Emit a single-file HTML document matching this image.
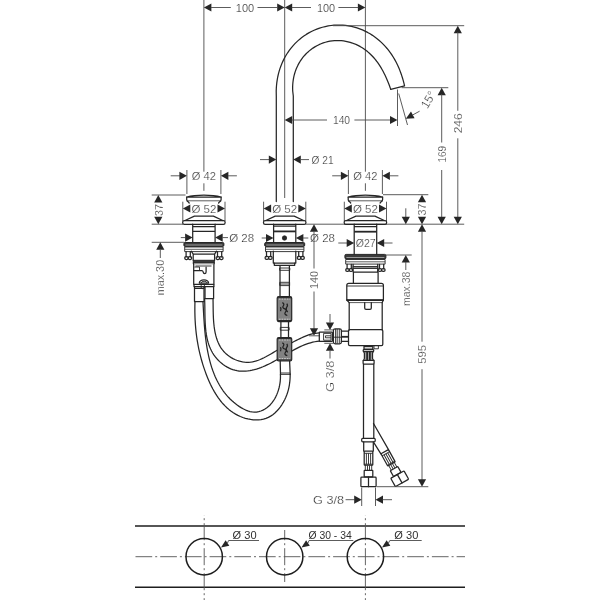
<!DOCTYPE html>
<html><head><meta charset="utf-8"><title>Drawing</title>
<style>
html,body{margin:0;padding:0;background:#fff;}
svg{display:block;will-change:transform}
.t{stroke:#4a4a4a;stroke-width:0.9;fill:none}
.m{stroke:#262626;stroke-width:1.25;fill:none;stroke-linejoin:round;stroke-linecap:round}
.m2{stroke:#262626;stroke-width:0.9;fill:none;stroke-linejoin:round}
.mb{stroke:#262626;stroke-width:1.8;fill:none}
.mf{stroke:#262626;stroke-width:1;fill:#3a3a3a}
.conn{stroke:#262626;stroke-width:1.2;fill:#828282}
.lt{stroke:#d8d8d8;stroke-width:0.9;fill:none;stroke-dasharray:1.6 1}
.fl{stroke:#a5a5a5;stroke-width:0.9;fill:none}
.m3{stroke:#333;stroke-width:0.8;fill:none}
.mf2{stroke:#262626;stroke-width:0.9;fill:#888}
.cband{fill:#2a2a2a;stroke:none}
.sq{stroke:#222;stroke-width:1.25;fill:none}
.a{fill:#262626;stroke:none}
.pl{stroke:#1e1e1e;stroke-width:1.5;fill:none}
.pc{stroke:#1e1e1e;stroke-width:1.5;fill:none}
.cl{stroke:#555;stroke-width:0.9;fill:none}
.tx{font-family:"Liberation Sans",sans-serif;fill:#303030;stroke:#fff;stroke-width:0.22}
.tp{font-family:"Liberation Sans",sans-serif;fill:#303030}
</style></head>
<body>
<svg width="600" height="600" viewBox="0 0 600 600">
<rect x="0" y="0" width="600" height="600" fill="#fff"/>
<line class="t" x1="203.9" y1="0.0" x2="203.9" y2="171.7"/>
<line class="t" x1="203.9" y1="183.3" x2="203.9" y2="190.8"/>
<line class="t" x1="365.4" y1="0.0" x2="365.4" y2="171.7"/>
<line class="t" x1="365.4" y1="183.3" x2="365.4" y2="190.8"/>
<line class="t" x1="284.7" y1="0.0" x2="284.7" y2="198.0"/>
<polygon class="a" points="203.9,7.5 211.4,3.4 211.4,11.6"/>
<polygon class="a" points="284.7,7.5 277.2,11.6 277.2,3.4"/>
<polygon class="a" points="284.7,7.5 292.2,3.4 292.2,11.6"/>
<polygon class="a" points="365.4,7.5 357.9,11.6 357.9,3.4"/>
<line class="t" x1="210.9" y1="7.5" x2="230.8" y2="7.5"/>
<line class="t" x1="257.5" y1="7.5" x2="277.7" y2="7.5"/>
<line class="t" x1="291.7" y1="7.5" x2="311.0" y2="7.5"/>
<line class="t" x1="338.4" y1="7.5" x2="358.4" y2="7.5"/>
<text class="tx" transform="translate(245.0 7.8)" x="0" y="3.90" font-size="10.9" text-anchor="middle" textLength="18.4" lengthAdjust="spacingAndGlyphs">100</text>
<text class="tx" transform="translate(326.0 7.8)" x="0" y="3.90" font-size="10.9" text-anchor="middle" textLength="18.2" lengthAdjust="spacingAndGlyphs">100</text>
<path class="m" d="M276.3,201.6 L276.3,96 L276.21,91.00 L276.32,88.13 L276.53,85.26 L276.84,82.41 L277.26,79.57 L277.78,76.74 L278.42,73.93 L279.17,71.15 L280.03,68.40 L281.01,65.68 L282.10,63.00 L283.31,60.37 L284.63,57.78 L286.07,55.26 L287.62,52.79 L289.28,50.39 L291.05,48.07 L292.94,45.83 L294.92,43.68 L297.01,41.61 L299.19,39.65 L301.47,37.79 L303.84,36.04 L306.29,34.41 L308.81,32.89 L311.41,31.50 L314.08,30.23 L316.80,29.10 L319.57,28.10 L322.39,27.24 L325.25,26.52 L328.14,25.94 L331.05,25.50 L333.97,25.20 L336.90,25.05 L339.83,25.04 L342.76,25.18 L345.67,25.45 L348.55,25.87 L351.41,26.42 L354.23,27.10 L357.01,27.92 L359.74,28.86 L362.42,29.93 L365.03,31.12 L367.59,32.42 L370.07,33.83 L372.48,35.35 L374.82,36.96 L377.07,38.67 L379.24,40.48 L381.33,42.36 L383.33,44.33 L385.24,46.37 L387.07,48.48 L388.81,50.65 L390.46,52.88 L392.02,55.17 L393.50,57.51 L394.89,59.90 L396.19,62.33 L397.42,64.80 L398.57,67.31 L399.64,69.86 L400.63,72.45 L401.55,75.07 L402.41,77.73 L403.19,80.42 L403.91,83.15 L404.57,85.92 L390.76,89.39" />
<path class="m" d="M293.3,201.6 L293.3,96 L292.71,91.00 L292.64,88.82 L292.65,86.63 L292.75,84.44 L292.94,82.24 L293.22,80.05 L293.60,77.86 L294.07,75.69 L294.65,73.53 L295.32,71.39 L296.09,69.27 L296.97,67.19 L297.95,65.15 L299.03,63.15 L300.20,61.20 L301.48,59.31 L302.85,57.47 L304.32,55.71 L305.88,54.02 L307.52,52.41 L309.25,50.88 L311.05,49.45 L312.93,48.11 L314.88,46.87 L316.89,45.73 L318.96,44.69 L321.08,43.77 L323.24,42.96 L325.44,42.27 L327.67,41.69 L329.93,41.23 L332.20,40.89 L334.48,40.67 L336.77,40.57 L339.05,40.58 L341.32,40.71 L343.58,40.96 L345.81,41.32 L348.02,41.78 L350.19,42.35 L352.32,43.03 L354.41,43.80 L356.45,44.67 L358.44,45.63 L360.37,46.67 L362.25,47.80 L364.06,49.00 L365.81,50.27 L367.50,51.61 L369.13,53.00 L370.69,54.46 L372.19,55.97 L373.62,57.52 L375.00,59.12 L376.31,60.76 L377.56,62.44 L378.76,64.15 L379.91,65.90 L381.00,67.67 L382.05,69.48 L383.06,71.31 L384.03,73.17 L384.96,75.07 L385.86,76.99 L386.74,78.95 L387.58,80.95 L388.41,82.99 L389.21,85.07 L389.99,87.20 L390.76,89.39" />
<line class="t" x1="333.0" y1="25.7" x2="464.2" y2="25.7"/>
<polygon class="a" points="457.8,25.7 461.9,33.2 453.7,33.2"/>
<line class="t" x1="457.8" y1="32.0" x2="457.8" y2="110.8"/>
<text class="tx" transform="translate(457.8 123.3) rotate(-90)" x="0" y="3.90" font-size="10.9" text-anchor="middle" textLength="20" lengthAdjust="spacingAndGlyphs">246</text>
<line class="t" x1="457.8" y1="138.3" x2="457.8" y2="217.2"/>
<polygon class="a" points="457.8,224.2 453.7,216.7 461.9,216.7"/>
<line class="t" x1="401.7" y1="87.7" x2="448.3" y2="87.7"/>
<polygon class="a" points="441.7,87.7 445.8,95.2 437.6,95.2"/>
<line class="t" x1="441.7" y1="94.0" x2="441.7" y2="142.5"/>
<text class="tx" transform="translate(441.7 154.2) rotate(-90)" x="0" y="3.90" font-size="10.9" text-anchor="middle" textLength="16.8" lengthAdjust="spacingAndGlyphs">169</text>
<line class="t" x1="441.7" y1="170.0" x2="441.7" y2="217.2"/>
<polygon class="a" points="441.7,224.2 437.6,216.7 445.8,216.7"/>
<line class="t" x1="305.8" y1="224.2" x2="464.2" y2="224.2"/>
<line class="t" x1="151.7" y1="224.2" x2="183.0" y2="224.2"/>
<line class="t" x1="151.7" y1="195.0" x2="185.5" y2="195.0"/>
<line class="t" x1="383.0" y1="194.7" x2="428.3" y2="194.7"/>
<polygon class="a" points="422.0,194.7 426.1,202.2 417.9,202.2"/>
<polygon class="a" points="422.0,224.2 417.9,216.7 426.1,216.7"/>
<text class="tx" transform="translate(422.0 209.4) rotate(-90)" x="0" y="3.90" font-size="10.9" text-anchor="middle" textLength="12" lengthAdjust="spacingAndGlyphs">37</text>
<polygon class="a" points="422.0,224.2 426.1,231.7 417.9,231.7"/>
<line class="t" x1="422.0" y1="231.2" x2="422.0" y2="341.7"/>
<text class="tx" transform="translate(422.2 354.3) rotate(-90)" x="0" y="3.90" font-size="10.9" text-anchor="middle" textLength="19" lengthAdjust="spacingAndGlyphs">595</text>
<line class="t" x1="422.0" y1="369.2" x2="422.0" y2="480.0"/>
<polygon class="a" points="422.0,486.7 417.9,479.2 426.1,479.2"/>
<line class="t" x1="405.8" y1="208.3" x2="405.8" y2="217.2"/>
<polygon class="a" points="405.8,224.2 401.7,216.7 409.9,216.7"/>
<line class="t" x1="385.8" y1="255.0" x2="411.7" y2="255.0"/>
<polygon class="a" points="405.8,255.0 409.9,262.5 401.7,262.5"/>
<line class="t" x1="405.8" y1="262.0" x2="405.8" y2="270.0"/>
<text class="tx" transform="translate(405.8 288.8) rotate(-90)" x="0" y="3.90" font-size="10.9" text-anchor="middle" textLength="34.2" lengthAdjust="spacingAndGlyphs">max.38</text>
<polygon class="a" points="158.3,195.0 162.4,202.5 154.2,202.5"/>
<polygon class="a" points="158.3,224.2 154.2,216.7 162.4,216.7"/>
<text class="tx" transform="translate(158.9 210.0) rotate(-90)" x="0" y="3.90" font-size="10.9" text-anchor="middle" textLength="12" lengthAdjust="spacingAndGlyphs">37</text>
<line class="t" x1="151.7" y1="242.3" x2="184.3" y2="242.3"/>
<polygon class="a" points="160.3,242.3 164.4,249.8 156.2,249.8"/>
<line class="t" x1="160.3" y1="249.5" x2="160.3" y2="258.0"/>
<text class="tx" transform="translate(160.3 277.6) rotate(-90)" x="0" y="3.90" font-size="10.9" text-anchor="middle" textLength="35.5" lengthAdjust="spacingAndGlyphs">max.30</text>
<polygon class="a" points="284.7,120.0 292.2,115.9 292.2,124.1"/>
<line class="t" x1="291.7" y1="120.0" x2="327.0" y2="120.0"/>
<text class="tx" transform="translate(341.5 120.3)" x="0" y="3.90" font-size="10.9" text-anchor="middle" textLength="17.2" lengthAdjust="spacingAndGlyphs">140</text>
<line class="t" x1="354.4" y1="120.0" x2="390.5" y2="120.0"/>
<polygon class="a" points="397.5,120.0 390.0,124.1 390.0,115.9"/>
<line class="t" x1="397.5" y1="89.5" x2="397.5" y2="126.0"/>
<line class="t" x1="398.7" y1="93.5" x2="407.5" y2="125.0"/>
<polygon class="a" points="405.8,118.7 411.0,111.5 414.6,118.2"/>
<line class="t" x1="412.0" y1="115.3" x2="419.6" y2="111.2"/>
<text class="tx" transform="translate(428.2 99.6) rotate(-60)" x="0" y="4.30" font-size="12" text-anchor="middle" textLength="17.5" lengthAdjust="spacingAndGlyphs">15°</text>
<line class="t" x1="260.0" y1="159.6" x2="269.3" y2="159.6"/>
<polygon class="a" points="276.3,159.6 268.8,163.7 268.8,155.5"/>
<polygon class="a" points="293.3,159.6 300.8,155.5 300.8,163.7"/>
<line class="t" x1="300.3" y1="159.6" x2="309.0" y2="159.6"/>
<text class="tx" transform="translate(322.6 159.9)" x="0" y="3.90" font-size="10.9" text-anchor="middle" textLength="22" lengthAdjust="spacingAndGlyphs">Ø 21</text>
<line class="t" x1="186.9" y1="170.0" x2="186.9" y2="194.0"/>
<line class="t" x1="220.9" y1="170.0" x2="220.9" y2="194.0"/>
<line class="t" x1="170.7" y1="175.8" x2="179.9" y2="175.8"/>
<polygon class="a" points="186.9,175.8 179.4,179.9 179.4,171.7"/>
<polygon class="a" points="220.9,175.8 228.4,171.7 228.4,179.9"/>
<line class="t" x1="227.9" y1="175.8" x2="236.9" y2="175.8"/>
<text class="tx" transform="translate(203.9 176.3)" x="0" y="3.90" font-size="10.9" text-anchor="middle" textLength="24.2" lengthAdjust="spacingAndGlyphs">Ø 42</text>
<path class="m" d="M186.7,197.1 C195.9,194.6 211.9,194.6 221.1,197.1 Z" fill="#2a2a2a"/>
<path class="m" d="M186.7,197.1 L186.7,199.6 Q186.8,201.2 188.3,201.9 L189.2,203 M221.1,197.1 L221.1,199.6 Q221.0,201.2 219.5,201.9 L218.6,203" />
<line class="m3" x1="187.3" y1="200.8" x2="220.5" y2="200.8"/>
<line class="t" x1="182.8" y1="201.7" x2="182.8" y2="221.0"/>
<line class="t" x1="225.0" y1="201.7" x2="225.0" y2="221.0"/>
<polygon class="a" points="182.8,208.5 190.3,204.4 190.3,212.6"/>
<polygon class="a" points="225.0,208.5 217.5,212.6 217.5,204.4"/>
<text class="tx" transform="translate(203.9 208.8)" x="0" y="3.90" font-size="10.9" text-anchor="middle" textLength="25" lengthAdjust="spacingAndGlyphs">Ø 52</text>
<path class="m" d="M185.0,220.5 L194.4,216.1 L213.4,216.1 L222.8,220.5" />
<rect class="m" x="182.7" y="220.5" width="42.4" height="3.8" rx="1.6" />
<line class="t" x1="348.4" y1="170.0" x2="348.4" y2="194.0"/>
<line class="t" x1="382.4" y1="170.0" x2="382.4" y2="194.0"/>
<line class="t" x1="332.2" y1="175.8" x2="341.4" y2="175.8"/>
<polygon class="a" points="348.4,175.8 340.9,179.9 340.9,171.7"/>
<polygon class="a" points="382.4,175.8 389.9,171.7 389.9,179.9"/>
<line class="t" x1="389.4" y1="175.8" x2="398.4" y2="175.8"/>
<text class="tx" transform="translate(365.4 176.3)" x="0" y="3.90" font-size="10.9" text-anchor="middle" textLength="24.2" lengthAdjust="spacingAndGlyphs">Ø 42</text>
<path class="m" d="M348.2,197.1 C357.4,194.6 373.4,194.6 382.6,197.1 Z" fill="#2a2a2a"/>
<path class="m" d="M348.2,197.1 L348.2,199.6 Q348.3,201.2 349.8,201.9 L350.7,203 M382.6,197.1 L382.6,199.6 Q382.5,201.2 381.0,201.9 L380.1,203" />
<line class="m3" x1="348.8" y1="200.8" x2="382.0" y2="200.8"/>
<line class="t" x1="344.3" y1="201.7" x2="344.3" y2="221.0"/>
<line class="t" x1="386.5" y1="201.7" x2="386.5" y2="221.0"/>
<polygon class="a" points="344.3,208.5 351.8,204.4 351.8,212.6"/>
<polygon class="a" points="386.5,208.5 379.0,212.6 379.0,204.4"/>
<text class="tx" transform="translate(365.4 208.8)" x="0" y="3.90" font-size="10.9" text-anchor="middle" textLength="25" lengthAdjust="spacingAndGlyphs">Ø 52</text>
<path class="m" d="M346.5,220.5 L355.9,216.1 L374.9,216.1 L384.3,220.5" />
<rect class="m" x="344.2" y="220.5" width="42.4" height="3.8" rx="1.6" />
<line class="t" x1="263.6" y1="201.7" x2="263.6" y2="221.0"/>
<line class="t" x1="305.8" y1="201.7" x2="305.8" y2="221.0"/>
<polygon class="a" points="263.6,208.5 271.1,204.4 271.1,212.6"/>
<polygon class="a" points="305.8,208.5 298.3,212.6 298.3,204.4"/>
<text class="tx" transform="translate(284.7 208.8)" x="0" y="3.90" font-size="10.9" text-anchor="middle" textLength="25" lengthAdjust="spacingAndGlyphs">Ø 52</text>
<path class="m" d="M265.8,220.5 L275.2,216.1 L294.2,216.1 L303.6,220.5" />
<rect class="m" x="263.5" y="220.5" width="42.4" height="3.8" rx="1.6" />
<path class="m" d="M192.7,224.2 L192.7,242.4 M215.1,224.2 L215.1,242.4 M192.7,226.6 L215.1,226.6 M192.7,231.3 L215.1,231.3" />
<line class="t" x1="180.8" y1="237.6" x2="185.4" y2="237.6"/>
<polygon class="a" points="192.6,237.6 185.1,241.7 185.1,233.5"/>
<polygon class="a" points="215.2,237.6 222.7,233.5 222.7,241.7"/>
<line class="t" x1="222.3" y1="237.6" x2="228.0" y2="237.6"/>
<text class="tx" transform="translate(241.7 238.3)" x="0" y="3.90" font-size="10.9" text-anchor="middle" textLength="25" lengthAdjust="spacingAndGlyphs">Ø 28</text>
<rect class="mf" x="183.9" y="242.5" width="40.0" height="3.9" rx="1.2" />
<line class="fl" x1="185.4" y1="245.0" x2="222.4" y2="245.0"/>
<rect class="m2" x="184.7" y="247.0" width="38.4" height="4.6" rx="0" />
<line class="m3" x1="184.7" y1="249.3" x2="223.1" y2="249.3"/>
<path class="m" d="M186.1,251.7 L186.1,256.9 M190.3,251.7 L190.3,256.9" />
<rect class="m" x="184.7" y="256.6" width="3.5" height="2.9" rx="1.4"/>
<rect class="m" x="188.2" y="256.6" width="3.5" height="2.9" rx="1.4"/>
<path class="m" d="M217.5,251.7 L217.5,256.9 M221.7,251.7 L221.7,256.9" />
<rect class="m" x="216.1" y="256.6" width="3.5" height="2.9" rx="1.4"/>
<rect class="m" x="219.6" y="256.6" width="3.5" height="2.9" rx="1.4"/>
<path class="m" d="M191.3,251.2 L193.2,254.2 L193.2,260.3 M216.5,251.2 L214.6,254.2 L214.6,260.3 M193.2,254.2 L214.6,254.2" />
<rect class="mf" x="193.3" y="260.3" width="21.0" height="2.7" rx="0" />
<line class="fl" x1="193.7" y1="264.0" x2="213.9" y2="264.0"/>
<path class="m" d="M193.4,263 L193.7,265 L193.7,284.3 L213.9,284.3 L213.9,265 L214.2,263" />
<path class="m2" d="M195.5,266 L211.5,266" />
<path class="m" d="M194,270.5 L201.8,270.5 Q202.8,270.6 203,271.6 Q203.4,273.6 204.7,273.6 Q206,273.6 206.1,272 L206.1,267.2" />
<path class="m2" d="M194.4,267 L199.5,267 L199.5,270.5" />
<path class="m" d="M199.3,283 A4.6,3.2 0 0 1 208.6,283 Z" />
<path class="m2" d="M201.2,283 A2.9,1.7 0 0 1 207,283" />
<path class="m" d="M194.0,284.5 L194.0,286.6 L213.9,286.6 L213.9,284.5" />
<path class="m" d="M194.5,286.6 L194.5,301.5 L204,301.5 L204,286.6 M194.5,288.3 L204,288.3" />
<path class="m" d="M205,286.6 L205,298.5 L213.6,298.5 L213.6,286.6" />
<path class="m2" d="M201.2,284.5 L201.2,288 Q202.8,289.4 204.4,288 L204.4,284.5" />
<path class="m" d="M194.97,301.40 L194.90,304.14 L194.86,306.86 L194.85,309.57 L194.87,312.26 L194.93,314.94 L195.01,317.61 L195.13,320.26 L195.29,322.90 L195.47,325.53 L195.69,328.15 L195.95,330.77 L196.24,333.37 L196.57,335.96 L196.93,338.54 L197.34,341.12 L197.78,343.69 L198.25,346.25 L198.77,348.81 L199.33,351.36 L199.92,353.91 L200.56,356.45 L201.23,358.99 L201.95,361.53 L202.71,364.06 L203.52,366.59 L204.36,369.12 L205.25,371.65 L206.19,374.18 L207.17,376.70 L208.20,379.21 L209.28,381.70 L210.41,384.17 L211.60,386.61 L212.85,389.00 L214.17,391.36 L215.54,393.67 L216.98,395.92 L218.49,398.11 L220.08,400.24 L221.73,402.29 L223.46,404.26 L225.27,406.15 L227.16,407.95 L229.13,409.65 L231.19,411.25 L233.34,412.73 L235.58,414.11 L237.91,415.36 L240.33,416.48 L242.82,417.47 L245.36,418.30 L247.95,418.97 L250.56,419.48 L253.18,419.80 L255.81,419.93 L258.41,419.86 L260.98,419.58 L263.50,419.08 L265.96,418.34 L268.34,417.37 L270.63,416.14 L272.81,414.66 L274.89,412.96 L276.84,411.07 L278.68,409.02 L280.39,406.83 L281.96,404.53 L283.39,402.15 L284.68,399.73 L285.82,397.28 L286.80,394.82 L287.65,392.34 L288.36,389.84 L288.94,387.32 L289.40,384.77 L289.75,382.19 L289.99,379.58 L290.13,376.93 L290.18,374.24" />
<path class="m" d="M202.99,301.80 L203.10,303.94 L203.21,306.10 L203.32,308.29 L203.44,310.50 L203.56,312.73 L203.69,314.98 L203.82,317.25 L203.96,319.54 L204.12,321.83 L204.28,324.14 L204.46,326.46 L204.66,328.79 L204.87,331.13 L205.10,333.47 L205.36,335.82 L205.63,338.16 L205.93,340.51 L206.25,342.86 L206.60,345.20 L206.98,347.54 L207.39,349.87 L207.83,352.19 L208.30,354.50 L208.81,356.80 L209.35,359.08 L209.93,361.35 L210.55,363.60 L211.22,365.84 L211.92,368.05 L212.67,370.24 L213.47,372.40 L214.31,374.54 L215.20,376.66 L216.15,378.74 L217.14,380.79 L218.19,382.81 L219.30,384.79 L220.46,386.74 L221.68,388.65 L222.96,390.52 L224.30,392.35 L225.71,394.13 L227.18,395.87 L228.72,397.56 L230.32,399.21 L232.00,400.80 L233.75,402.34 L235.57,403.83 L237.47,405.26 L239.43,406.63 L241.46,407.90 L243.54,409.05 L245.67,410.06 L247.82,410.90 L250.00,411.54 L252.20,411.96 L254.39,412.13 L256.58,412.02 L258.75,411.65 L260.88,411.02 L262.96,410.16 L264.96,409.07 L266.87,407.79 L268.67,406.32 L270.35,404.69 L271.90,402.90 L273.31,400.99 L274.59,398.96 L275.74,396.84 L276.76,394.64 L277.66,392.38 L278.42,390.08 L279.07,387.75 L279.59,385.42 L279.99,383.10 L280.27,380.81 L280.43,378.57 L280.47,376.39 L280.40,374.30" />
<path class="m" d="M204.59,298.57 L204.68,300.63 L204.75,302.72 L204.80,304.86 L204.84,307.03 L204.87,309.22 L204.89,311.44 L204.92,313.69 L204.96,315.95 L205.01,318.22 L205.09,320.50 L205.19,322.79 L205.32,325.07 L205.49,327.36 L205.71,329.63 L205.97,331.89 L206.29,334.14 L206.67,336.37 L207.12,338.57 L207.65,340.75 L208.25,342.89 L208.94,345.00 L209.71,347.07 L210.59,349.09 L211.56,351.06 L212.65,352.99 L213.84,354.85 L215.15,356.65 L216.56,358.38 L218.06,360.03 L219.65,361.60 L221.33,363.08 L223.08,364.45 L224.91,365.72 L226.79,366.88 L228.73,367.91 L230.73,368.82 L232.76,369.59 L234.84,370.22 L236.94,370.70 L239.08,371.02 L241.23,371.20 L243.39,371.24 L245.57,371.16 L247.76,370.95 L249.95,370.62 L252.13,370.20 L254.31,369.67 L256.48,369.06 L258.64,368.36 L260.77,367.60 L262.88,366.77 L264.96,365.88 L267.02,364.94 L269.05,363.96 L271.06,362.94 L273.04,361.88 L275.01,360.80 L276.97,359.70 L278.91,358.57 L280.85,357.44 L282.78,356.30 L284.70,355.16 L286.62,354.02 L288.54,352.89 L290.47,351.78 L292.40,350.69 L294.34,349.63 L296.30,348.60 L298.26,347.60 L300.25,346.66 L302.25,345.76 L304.28,344.92 L306.33,344.13 L308.41,343.42 L310.52,342.78 L312.66,342.23 L314.84,341.75 L317.05,341.37 L319.31,341.09" />
<path class="m" d="M213.00,298.57 L213.05,300.38 L213.09,302.25 L213.11,304.17 L213.13,306.13 L213.15,308.12 L213.18,310.15 L213.22,312.20 L213.27,314.28 L213.35,316.37 L213.44,318.47 L213.57,320.59 L213.73,322.70 L213.94,324.81 L214.18,326.91 L214.47,329.00 L214.82,331.07 L215.22,333.12 L215.69,335.13 L216.23,337.12 L216.83,339.07 L217.52,340.97 L218.29,342.82 L219.14,344.63 L220.08,346.37 L221.13,348.05 L222.27,349.66 L223.52,351.20 L224.87,352.65 L226.33,354.03 L227.88,355.32 L229.51,356.51 L231.22,357.61 L232.99,358.60 L234.83,359.49 L236.71,360.26 L238.63,360.92 L240.58,361.46 L242.56,361.87 L244.55,362.14 L246.55,362.28 L248.55,362.29 L250.53,362.14 L252.50,361.85 L254.45,361.42 L256.38,360.88 L258.30,360.22 L260.20,359.47 L262.09,358.63 L263.96,357.73 L265.82,356.77 L267.67,355.76 L269.50,354.73 L271.33,353.68 L273.14,352.62 L274.95,351.57 L276.75,350.54 L278.53,349.54 L280.32,348.58 L282.09,347.65 L283.87,346.73 L285.64,345.83 L287.41,344.94 L289.18,344.04 L290.96,343.15 L292.74,342.23 L294.53,341.31 L296.32,340.38 L298.13,339.47 L299.95,338.57 L301.78,337.70 L303.63,336.87 L305.50,336.09 L307.40,335.36 L309.31,334.71 L311.26,334.14 L313.23,333.66 L315.23,333.28 L317.26,333.01 L319.33,332.86" />
<path class="m" d="M273.6,224.2 L273.6,242.4 M295.8,224.2 L295.8,242.4 M273.6,226.2 L295.8,226.2" />
<line class="mb" x1="273.6" y1="231.4" x2="295.8" y2="231.4"/>
<circle cx="284.5" cy="238" r="2.2" fill="#262626" stroke="#262626" stroke-width="0.8"/>
<line class="t" x1="261.7" y1="238.0" x2="266.3" y2="238.0"/>
<polygon class="a" points="273.5,238.0 266.0,242.1 266.0,233.9"/>
<polygon class="a" points="295.9,238.0 303.4,233.9 303.4,242.1"/>
<line class="t" x1="303.0" y1="238.0" x2="308.3" y2="238.0"/>
<text class="tx" transform="translate(322.5 238.3)" x="0" y="3.90" font-size="10.9" text-anchor="middle" textLength="25" lengthAdjust="spacingAndGlyphs">Ø 28</text>
<rect class="mf" x="264.7" y="242.5" width="40.0" height="3.9" rx="1.2" />
<line class="fl" x1="266.2" y1="245.0" x2="303.2" y2="245.0"/>
<rect class="m2" x="265.5" y="247.0" width="38.4" height="4.6" rx="0" />
<line class="m3" x1="265.5" y1="249.3" x2="303.9" y2="249.3"/>
<path class="m" d="M266.5,251.7 L266.5,256.7 M270.7,251.7 L270.7,256.7" />
<rect class="m" x="265.1" y="256.4" width="3.5" height="2.9" rx="1.4"/>
<rect class="m" x="268.6" y="256.4" width="3.5" height="2.9" rx="1.4"/>
<path class="m" d="M298.7,251.7 L298.7,256.7 M302.9,251.7 L302.9,256.7" />
<rect class="m" x="297.3" y="256.4" width="3.5" height="2.9" rx="1.4"/>
<rect class="m" x="300.8" y="256.4" width="3.5" height="2.9" rx="1.4"/>
<path class="m" d="M273.3,251 L273.3,263 L295.8,263 L295.8,251" />
<path class="m" d="M274.3,263 L274.3,265.3 L294.7,265.3 L294.7,263" />
<path class="m" d="M280,265.5 L280,296.7 M289.4,265.5 L289.4,296.7" />
<rect class="m2" x="279.6" y="268.0" width="10.2" height="2.3" rx="0" />
<rect class="m2" x="279.8" y="282.3" width="9.8" height="3.3" rx="0" />
<line class="m2" x1="279.8" y1="284.0" x2="289.6" y2="284.0"/>
<rect class="conn" x="277.2" y="296.7" width="14.5" height="24.9" rx="1.5" />
<rect class="cband" x="277.8" y="297.1" width="13.3" height="1.2" rx="0" />
<rect class="cband" x="277.8" y="320.0" width="13.3" height="1.2" rx="0" />
<line class="lt" x1="279" y1="299.1" x2="290" y2="299.1"/>
<line class="lt" x1="279" y1="319.2" x2="290" y2="319.2"/>
<path class="sq" d="M282.3,302.6 q2.5,1 1,3.2 q-1.5,2 1.5,3 q2.5,1 0.5,3.5 q-1.5,2 2,3.2 M286.8,303.6 q1.5,2 -0.3,4 q-1,2 1.2,4.5 M280.5,307.1 q1,2 0,4" />
<path class="m" d="M280.9,321.6 L280.9,337.6 M288.5,321.6 L288.5,337.6" />
<rect class="m2" x="280.3" y="327.4" width="8.8" height="2.8" rx="0" />
<rect class="conn" x="277.2" y="337.6" width="14.5" height="23.4" rx="1.5" />
<rect class="cband" x="277.8" y="338.0" width="13.3" height="1.2" rx="0" />
<rect class="cband" x="277.8" y="359.4" width="13.3" height="1.2" rx="0" />
<line class="lt" x1="279" y1="340.0" x2="290" y2="340.0"/>
<line class="lt" x1="279" y1="358.6" x2="290" y2="358.6"/>
<path class="sq" d="M282.3,342.8 q2.5,1 1,3.2 q-1.5,2 1.5,3 q2.5,1 0.5,3.5 q-1.5,2 2,3.2 M286.8,343.8 q1.5,2 -0.3,4 q-1,2 1.2,4.5 M280.5,347.3 q1,2 0,4" />
<path class="m" d="M280.2,361 L280.5,374.2 M289.6,361 L290.2,374.2" />
<line class="m2" x1="280.4" y1="373.0" x2="290.0" y2="373.0"/>
<line class="m2" x1="280.4" y1="374.4" x2="290.1" y2="374.4"/>
<polygon class="a" points="314.0,224.2 318.1,231.7 309.9,231.7"/>
<line class="t" x1="314.0" y1="231.2" x2="314.0" y2="268.5"/>
<text class="tx" transform="translate(314.0 280.0) rotate(-90)" x="0" y="3.90" font-size="10.9" text-anchor="middle" textLength="18" lengthAdjust="spacingAndGlyphs">140</text>
<line class="t" x1="314.0" y1="291.5" x2="314.0" y2="329.0"/>
<polygon class="a" points="314.0,335.8 309.9,328.3 318.1,328.3"/>
<line class="t" x1="309.0" y1="335.8" x2="320.0" y2="335.8"/>
<line class="t" x1="330.0" y1="314.0" x2="330.0" y2="322.5"/>
<polygon class="a" points="330.0,329.9 325.9,322.4 334.1,322.4"/>
<polygon class="a" points="330.0,343.3 334.1,350.8 325.9,350.8"/>
<line class="t" x1="330.0" y1="350.5" x2="330.0" y2="358.5"/>
<line class="t" x1="324.3" y1="329.9" x2="333.0" y2="329.9"/>
<line class="t" x1="324.3" y1="343.3" x2="333.0" y2="343.3"/>
<text class="tx" transform="translate(330.3 376.3) rotate(-90)" x="0" y="3.90" font-size="10.9" text-anchor="middle" textLength="31.5" lengthAdjust="spacingAndGlyphs">G 3/8</text>
<path class="m" d="M354.2,224.2 L354.2,254.4 M376.7,224.2 L376.7,254.4 M354.2,226.6 L376.7,226.6" />
<line class="mb" x1="354.2" y1="231.7" x2="376.7" y2="231.7"/>
<line class="t" x1="338.3" y1="243.0" x2="347.2" y2="243.0"/>
<polygon class="a" points="354.2,243.0 346.7,247.1 346.7,238.9"/>
<polygon class="a" points="376.7,243.0 384.2,238.9 384.2,247.1"/>
<line class="t" x1="383.7" y1="243.0" x2="392.5" y2="243.0"/>
<text class="tx" transform="translate(365.7 243.4)" x="0" y="3.90" font-size="10.9" text-anchor="middle" textLength="20" lengthAdjust="spacingAndGlyphs">Ø27</text>
<rect class="mf" x="344.9" y="254.4" width="41.0" height="4.5" rx="1.2" />
<line class="fl" x1="346.4" y1="257.5" x2="384.4" y2="257.5"/>
<rect class="m2" x="345.7" y="259.5" width="39.4" height="4.6" rx="0" />
<line class="m3" x1="345.7" y1="261.8" x2="385.1" y2="261.8"/>
<path class="m" d="M347.1,264.3 L347.1,268.8 M351.3,264.3 L351.3,268.8" />
<rect class="m" x="345.7" y="268.5" width="3.5" height="2.9" rx="1.4"/>
<rect class="m" x="349.2" y="268.5" width="3.5" height="2.9" rx="1.4"/>
<path class="m" d="M379.5,264.3 L379.5,268.8 M383.7,264.3 L383.7,268.8" />
<rect class="m" x="378.1" y="268.5" width="3.5" height="2.9" rx="1.4"/>
<rect class="m" x="381.6" y="268.5" width="3.5" height="2.9" rx="1.4"/>
<path class="m" d="M353.1,264.3 L353.1,272.1 L353.4,272.1 L353.4,283.3 M377.7,264.3 L377.7,272.1 L378.1,272.1 L378.1,283.3 M353.1,272.1 L377.7,272.1" />
<rect class="mf2" x="353.1" y="266.5" width="24.6" height="2.0" rx="0" />
<path class="m" d="M346.8,300 L346.8,285.3 Q346.8,283.3 348.8,283.3 L381.4,283.3 Q383.4,283.3 383.4,285.3 L383.4,300 Z" />
<line class="m2" x1="346.8" y1="286.0" x2="383.4" y2="286.0"/>
<line class="mb" x1="346.8" y1="300.2" x2="383.4" y2="300.2"/>
<path class="m" d="M346.8,300 L349.2,302.6 M383.4,300 L382.2,302.6" />
<line class="t" x1="349.2" y1="302.6" x2="382.2" y2="302.6"/>
<path class="m" d="M349.2,302.6 L349.2,330 M382.2,302.6 L382.2,330" />
<path class="m" d="M364.7,302.6 L364.7,308 Q364.7,309.3 366,309.3 L370,309.3 Q371.3,309.3 371.3,308 L371.3,302.6" />
<rect class="m" x="348.5" y="329.6" width="34.3" height="16.0" rx="1.3" />
<path class="m" d="M348.5,331 L341.4,331 M348.5,341.4 L341.4,341.4" />
<line class="mb" x1="341.4" y1="336.8" x2="348.3" y2="336.8"/>
<rect class="m" x="333.4" y="328.8" width="8.0" height="15.0" rx="1.8" />
<path class="m2" d="M335.6,329 L335.6,343.6 M337.2,329 L337.2,343.6 M339.3,329 L339.3,343.6" />
<line class="m2" x1="333.4" y1="337.2" x2="341.4" y2="337.2"/>
<rect class="m" x="319.3" y="332.2" width="13.1" height="9.1" rx="0.6" />
<path class="m2" d="M323.6,333.4 L323.6,340.2 M323.6,333.4 L331,333.4 M323.6,340.2 L331,340.2 M331,333.4 L331,340.2 M325.5,335.8 L331,335.8 M325.5,337.8 L331,337.8 M325.5,335.8 L325.5,337.8" />
<path class="m2" d="M332.4,333 L333.4,333 M332.4,340.6 L333.4,340.6" />
<path class="m" d="M364,345.5 L364,349.2 L372.8,349.2 L372.8,345.5" />
<line class="mb" x1="364.0" y1="346.3" x2="372.8" y2="346.3"/>
<path class="m2" d="M374,345.8 L374,348.8 L378.4,348.8 L378.4,345.8" />
<rect class="m" x="363.2" y="349.5" width="10.5" height="2.1" rx="0.8" />
<path class="m" d="M363.4,351.6 Q364.4,352.4 364.4,353.6 L364.4,358.2 Q364.4,359.6 363.2,360.4 M373.5,351.6 Q372.5,352.4 372.5,353.6 L372.5,358.2 Q372.5,359.6 373.9,360.4" />
<path class="m" d="M366.2,352 L366.2,359.8 M367.6,352 L367.6,359.8 M369.4,352 L369.4,359.8 M370.8,352 L370.8,359.8" />
<rect class="m" x="363.1" y="360.4" width="11.0" height="3.6" rx="0.8" />
<path class="m" d="M363.5,364 L363.5,438.3 M373.8,364 L373.8,438.3" />
<rect class="m" x="361.7" y="438.3" width="13.5" height="3.5" rx="1" />
<path class="m" d="M363.7,441.8 L363.7,451 M373.3,441.8 L373.3,451" />
<g transform="translate(368.5,451) rotate(0)">
<rect class="m" x="-4.3" y="0.0" width="8.6" height="14.0" rx="0.6" />
<path class="m2" d="M-2.1,2.3 L-2.1,13.2 M0,2.3 L0,13.2 M2.1,2.3 L2.1,13.2 M-4.3,2.3 L4.3,2.3 M-4.3,13.2 L4.3,13.2" />
<path class="m2" d="M-3.2,14 L-3.2,19.3 M3.2,14 L3.2,19.3 M-1,14.5 L-1,19 M1,14.5 L1,19" />
<rect class="m" x="-4.3" y="19.3" width="8.6" height="6.6" rx="0.5" />
<rect class="m" x="-7.6" y="26.2" width="15.2" height="9.5" rx="0.8" />
<line class="m" x1="0.0" y1="26.2" x2="0.0" y2="35.7"/>
</g>
<path class="m" d="M373.5,423.5 L388.5,449.6 M374,442.8 L380.9,453.8" />
<g transform="translate(384.7,451.7) rotate(-29)">
<rect class="m" x="-4.3" y="0.0" width="8.6" height="14.0" rx="0.6" />
<path class="m2" d="M-2.1,2.3 L-2.1,13.2 M0,2.3 L0,13.2 M2.1,2.3 L2.1,13.2 M-4.3,2.3 L4.3,2.3 M-4.3,13.2 L4.3,13.2" />
<path class="m2" d="M-3.2,14 L-3.2,19.3 M3.2,14 L3.2,19.3 M-1,14.5 L-1,19 M1,14.5 L1,19" />
<rect class="m" x="-4.3" y="19.3" width="8.6" height="6.6" rx="0.5" />
<rect class="m" x="-7.6" y="26.2" width="15.2" height="9.5" rx="0.8" />
<line class="m" x1="0.0" y1="26.2" x2="0.0" y2="35.7"/>
</g>
<line class="t" x1="376.7" y1="486.7" x2="428.3" y2="486.7"/>
<line class="t" x1="361.7" y1="487.5" x2="361.7" y2="506.0"/>
<line class="t" x1="375.5" y1="487.5" x2="375.5" y2="506.0"/>
<line class="t" x1="345.6" y1="499.7" x2="354.6" y2="499.7"/>
<polygon class="a" points="361.7,499.7 354.2,503.8 354.2,495.6"/>
<polygon class="a" points="375.5,499.7 383.0,495.6 383.0,503.8"/>
<line class="t" x1="382.5" y1="499.7" x2="392.0" y2="499.7"/>
<text class="tx" transform="translate(328.5 500.2)" x="0" y="3.90" font-size="10.9" text-anchor="middle" textLength="31" lengthAdjust="spacingAndGlyphs">G 3/8</text>
<line class="pl" x1="135.0" y1="526.0" x2="465.0" y2="526.0"/>
<line class="pl" x1="135.0" y1="587.2" x2="465.0" y2="587.2"/>
<line class="cl" x1="135.5" y1="556.7" x2="465" y2="556.7" stroke-dasharray="16.7 3 2 3"/>
<line class="cl" x1="204.2" y1="515" x2="204.2" y2="600" stroke-dasharray="17 3 2 3" stroke-dashoffset="16.8"/>
<circle class="pc" cx="204.2" cy="556.7" r="18.2"/>
<line class="cl" x1="284.7" y1="530" x2="284.7" y2="582" stroke-dasharray="17 3 2 3" stroke-dashoffset="6.8"/>
<circle class="pc" cx="284.7" cy="556.7" r="18.2"/>
<line class="cl" x1="365.4" y1="515" x2="365.4" y2="600" stroke-dasharray="17 3 2 3" stroke-dashoffset="16.8"/>
<circle class="pc" cx="365.4" cy="556.7" r="18.2"/>
<line class="t" x1="228.6" y1="540.5" x2="259.0" y2="540.5"/>
<line class="t" x1="228.6" y1="540.5" x2="227.5" y2="543.0"/>
<polygon class="a" points="221.0,547.4 225.6,540.3 229.3,545.8"/>
<text class="tp" transform="translate(232.6 535.7)" x="0" y="3.65" font-size="10.2" text-anchor="start" textLength="24" lengthAdjust="spacingAndGlyphs">Ø 30</text>
<line class="t" x1="309.0" y1="540.5" x2="353.3" y2="540.5"/>
<line class="t" x1="309.0" y1="540.5" x2="308.0" y2="543.0"/>
<polygon class="a" points="301.5,547.4 306.1,540.3 309.8,545.8"/>
<text class="tp" transform="translate(308.5 535.7)" x="0" y="3.65" font-size="10.2" text-anchor="start" textLength="43.2" lengthAdjust="spacingAndGlyphs">Ø 30 - 34</text>
<line class="t" x1="389.8" y1="540.5" x2="421.7" y2="540.5"/>
<line class="t" x1="389.8" y1="540.5" x2="388.5" y2="543.0"/>
<polygon class="a" points="382.0,547.4 386.6,540.3 390.3,545.8"/>
<text class="tp" transform="translate(394.3 535.7)" x="0" y="3.65" font-size="10.2" text-anchor="start" textLength="24" lengthAdjust="spacingAndGlyphs">Ø 30</text>
</svg>
</body></html>
